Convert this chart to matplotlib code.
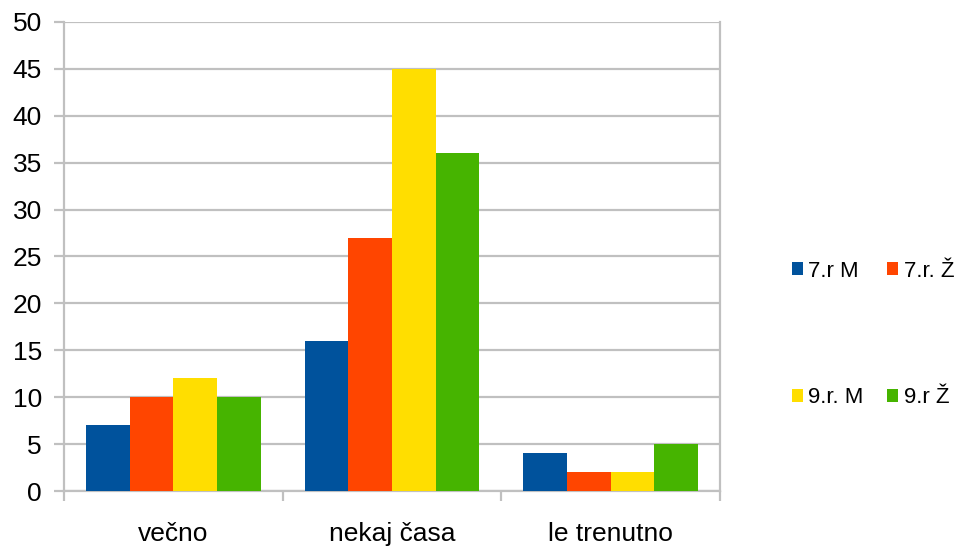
import matplotlib.pyplot as plt
import numpy as np
from matplotlib.patches import Patch

plt.rcParams["font.family"] = ["Liberation Sans", "DejaVu Sans"]

categories = ["večno", "nekaj časa", "le trenutno"]
series_names = ["7.r M", "7.r. Ž", "9.r. M", "9.r Ž"]
values_7m = [7, 16, 4]
values_7z = [10, 27, 2]
values_9m = [12, 45, 2]
values_9z = [10, 36, 5]
colors = ["#00529c", "#ff4500", "#ffde00", "#46b400"]
y_ticks = [0, 5, 10, 15, 20, 25, 30, 35, 40, 45, 50]

fig = plt.figure(figsize=(9.56, 5.48), dpi=100)
ax = fig.add_axes([0.067, 0.104, 0.686, 0.856])

x = np.arange(len(categories))
width = 0.2
all_series = [values_7m, values_7z, values_9m, values_9z]
handles = []
for i, (vals, col, name) in enumerate(zip(all_series, colors, series_names)):
    ax.bar(x - 0.3 + i * width, vals, width, color=col, zorder=3)
    handles.append(Patch(facecolor=col, label=name))

ax.set_xlim(-0.5, 2.5)
ax.set_ylim(0, 50)
ax.set_yticks(y_ticks)
ax.yaxis.grid(True, color="#c0c0c0", linewidth=1.6, zorder=0)

ax.set_xticks([-0.5, 0.5, 1.5, 2.5])
ax.set_xticklabels([])
ax.set_xticks(x, minor=True)
ax.set_xticklabels(categories, minor=True, fontsize=19)
ax.tick_params(axis="x", which="minor", length=0, pad=22)
ax.tick_params(axis="x", which="major", length=7, width=1.6, color="#c0c0c0")
ax.tick_params(axis="y", length=7, width=1.6, color="#c0c0c0", labelsize=19, pad=9)

for side in ["left", "right", "bottom"]:
    ax.spines[side].set_color("#c0c0c0")
    ax.spines[side].set_linewidth(1.6)
ax.spines["top"].set_visible(False)

order = [0, 2, 1, 3]
fig.legend(
    [handles[i] for i in order],
    [series_names[i] for i in order],
    ncol=2,
    loc="center left",
    bbox_to_anchor=(0.812, 0.39),
    frameon=False,
    fontsize=16,
    handlelength=0.5,
    handleheight=0.5,
    handletextpad=0.25,
    columnspacing=1.05,
    labelspacing=4.75,
    borderpad=0.2,
)

fig.savefig("out.png", dpi=100)
